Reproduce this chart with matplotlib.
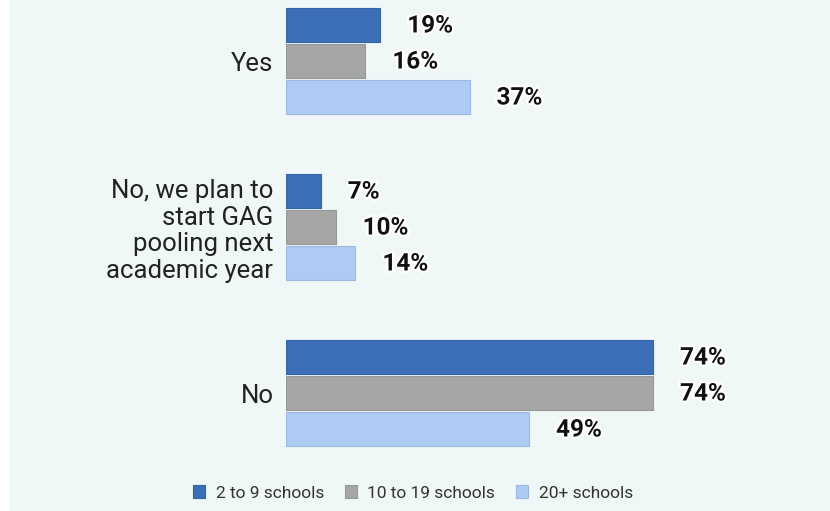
import matplotlib
matplotlib.use("Agg")
import matplotlib.pyplot as plt
import matplotlib.patheffects as pe
from matplotlib.patches import Rectangle
import numpy as np

plt.rcParams['font.family'] = ['Roboto', 'DejaVu Sans']

categories = ["Yes", "No, we plan to\nstart GAG\npooling next\nacademic year", "No"]
series_names = ["2 to 9 schools", "10 to 19 schools", "20+ schools"]
values = {
    "2 to 9 schools": [19, 7, 74],
    "10 to 19 schools": [16, 10, 74],
    "20+ schools": [37, 14, 49],
}
colors = ["#3d6eb8", "#a6a6a6", "#aecbf4"]
edges = ["#3563a8", "#979797", "#9db9e0"]

bg = "#eff8f7"
fig = plt.figure(figsize=(8.3, 5.11), dpi=100, facecolor="white")
fig.add_artist(Rectangle((10 / 830, 0), 1, 1, transform=fig.transFigure,
                         facecolor=bg, edgecolor="none", zorder=-10))

ax = fig.add_axes([286 / 830, 1 - 460 / 511, 496 / 830, 460 / 511])
ax.set_facecolor("none")

pitch = 36 / 166
height = 34 / 166
y = np.arange(len(categories))
for k, name in enumerate(series_names):
    pos = y + (k - 1) * pitch
    bars = ax.barh(pos, values[name], height=height, color=colors[k],
                   edgecolor=edges[k], linewidth=0.8, label=name)
    for rect, v in zip(bars, values[name]):
        t = ax.annotate(f"{v}%", (rect.get_width(), rect.get_y() + rect.get_height() / 2),
                        xytext=(27, -1), textcoords="offset pixels",
                        ha="left", va="center", fontsize=17.5, fontweight="bold",
                        color="#111111")
        t.set_path_effects([pe.withStroke(linewidth=3.5, foreground="white")])

ax.set_xlim(0, 100)
ax.set_ylim((460 - 61) / 166, -61 / 166)
ax.set_yticks(y)
ax.set_yticklabels(categories, fontsize=18.5, color="#222222", linespacing=1.15,
                   ha="right")
ax.tick_params(axis="y", length=0, pad=9)
ax.set_xticks([])
for s in ax.spines.values():
    s.set_visible(False)

fig.legend(loc="center", bbox_to_anchor=(413 / 830, 1 - 493 / 511), ncol=3,
           frameon=False, fontsize=12.5, handlelength=0.7, handleheight=0.7,
           handletextpad=0.6, columnspacing=1.2, labelcolor="#333333")

fig.savefig("out.png", dpi=100, facecolor="white")
